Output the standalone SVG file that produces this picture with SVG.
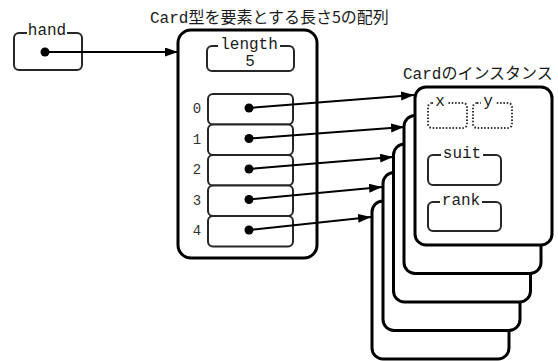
<svg xmlns="http://www.w3.org/2000/svg" width="558" height="361" viewBox="0 0 558 361">
<style>
  .mono { font-family: "Liberation Mono", "Noto Sans CJK JP", monospace; font-size: 16px; fill: #1a1a1a; }
  .jp { font-family: "Noto Sans CJK JP", sans-serif; font-size: 16px; fill: #1a1a1a; }
  .idx { font-family: "Liberation Mono", monospace; font-size: 14px; fill: #333; text-anchor: middle; }
  .lbl { text-anchor: middle; }
  .box { fill: #fff; stroke: #262626; stroke-width: 2; }
  .dotbox { fill: #fff; stroke: #333; stroke-width: 2; stroke-dasharray: 1.5 1.8; }
  .big { fill: #fff; stroke: #000; stroke-width: 3; }
  .bg { fill: #fff; }
  .dot { fill: #000; }
  .conn { stroke: #000; stroke-width: 2; fill: none; marker-end: url(#arr); }
</style>
<defs>
  <marker id="arr" markerUnits="userSpaceOnUse" markerWidth="14" markerHeight="10" refX="13" refY="4.5" orient="auto">
    <path d="M0,0 L13,4.5 L0,9 z" fill="#000"/>
  </marker>
</defs>

<text id="title-array" x="150" y="23" class="mono">Card<tspan class="jp">型を要素とする長さ5の配列</tspan></text>
<text id="title-card" x="403" y="79" class="mono">Card<tspan class="jp">のインスタンス</tspan></text>

<g id="hand">
  <rect class="box" x="14" y="33" width="68" height="37" rx="5"/>
  <rect class="bg" x="27" y="27" width="40" height="10"/>
  <text class="mono lbl" x="47" y="35">hand</text>
  <circle class="dot" cx="45" cy="52" r="4.5"/>
</g>

<g id="array">
  <rect class="big" x="178" y="30" width="139" height="228" rx="13"/>
  <g id="length">
    <rect class="box" x="207" y="46" width="87" height="25" rx="5"/>
    <rect class="bg" x="218" y="40" width="62" height="10"/>
    <text class="mono lbl" x="249" y="49">length</text>
    <text class="mono lbl" x="250" y="66">5</text>
  </g>
  <g id="cell0">
    <rect class="box" x="208" y="94" width="85" height="30.5" rx="5"/>
    <text class="idx" x="197" y="113">0</text>
    <circle class="dot" cx="249" cy="108" r="4.5"/>
  </g>
  <g id="cell1">
    <rect class="box" x="208" y="124.5" width="85" height="30.5" rx="5"/>
    <text class="idx" x="197" y="143.5">1</text>
    <circle class="dot" cx="249" cy="138.5" r="4.5"/>
  </g>
  <g id="cell2">
    <rect class="box" x="208" y="155" width="85" height="30.5" rx="5"/>
    <text class="idx" x="197" y="174">2</text>
    <circle class="dot" cx="249" cy="169" r="4.5"/>
  </g>
  <g id="cell3">
    <rect class="box" x="208" y="185.5" width="85" height="30.5" rx="5"/>
    <text class="idx" x="197" y="204.5">3</text>
    <circle class="dot" cx="249" cy="199.5" r="4.5"/>
  </g>
  <g id="cell4">
    <rect class="box" x="208" y="216" width="85" height="30.5" rx="5"/>
    <text class="idx" x="197" y="235">4</text>
    <circle class="dot" cx="249" cy="230" r="4.5"/>
  </g>
</g>

<g id="card4"><rect class="big" x="372" y="201" width="137" height="158" rx="11"/></g>
<g id="card3"><rect class="big" x="383" y="172.5" width="137" height="158" rx="11"/></g>
<g id="card2"><rect class="big" x="393.5" y="144" width="137" height="158" rx="11"/></g>
<g id="card1"><rect class="big" x="404" y="115.5" width="137" height="158" rx="11"/></g>
<g id="card0">
  <rect class="big" x="415" y="87" width="137" height="158" rx="11"/>
  <g id="field-x">
    <rect class="dotbox" x="428" y="103" width="39" height="25" rx="4"/>
    <rect class="bg" x="433" y="97" width="14" height="9"/>
    <text class="mono lbl" x="440" y="106">x</text>
  </g>
  <g id="field-y">
    <rect class="dotbox" x="473" y="103" width="39" height="25" rx="4"/>
    <rect class="bg" x="481" y="97" width="14" height="9"/>
    <text class="mono lbl" x="488" y="106">y</text>
  </g>
  <g id="field-suit">
    <rect class="box" x="428" y="155" width="73" height="30" rx="5"/>
    <rect class="bg" x="441" y="149" width="42" height="9"/>
    <text class="mono lbl" x="462" y="158">suit</text>
  </g>
  <g id="field-rank">
    <rect class="box" x="428" y="202" width="73" height="29" rx="5"/>
    <rect class="bg" x="440" y="196" width="42" height="9"/>
    <text class="mono lbl" x="461" y="205">rank</text>
  </g>
</g>

<g id="connectors">
  <line class="conn" x1="45" y1="52" x2="178" y2="52"/>
  <line class="conn" x1="249" y1="108" x2="414" y2="95"/>
  <line class="conn" x1="249" y1="138.5" x2="404" y2="127"/>
  <line class="conn" x1="249" y1="169" x2="393" y2="157"/>
  <line class="conn" x1="249" y1="199.5" x2="382" y2="187"/>
  <line class="conn" x1="249" y1="230" x2="371" y2="217"/>
</g>
</svg>
